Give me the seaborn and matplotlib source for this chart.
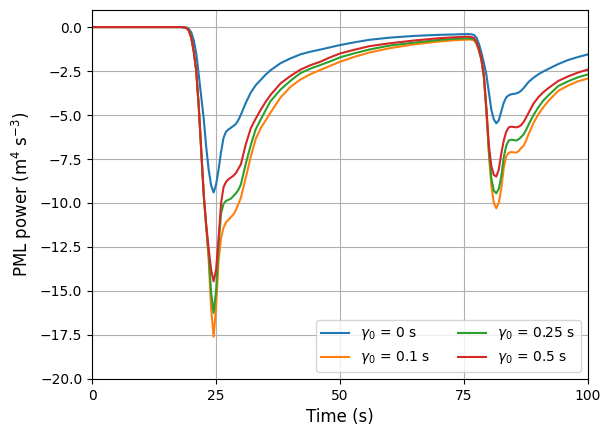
# PML power for different gamma_0 values
import pandas as pd
import matplotlib.pyplot as plt
import seaborn as sns

# Time axis (s)
tempo = [0, 5, 10, 15, 18, 19, 19.5, 20, 20.5, 21, 21.5, 22, 22.5, 23, 23.5, 24, 24.5,
         25, 25.5, 26, 26.5, 27, 27.5, 28, 28.5, 29, 29.5, 30, 31, 32, 33, 34, 35, 36,
         38, 40, 42, 44, 46, 48, 50, 53, 56, 60, 65, 70, 73, 75, 76, 76.5, 77, 77.5,
         78, 78.5, 79, 79.5, 80, 80.5, 81, 81.5, 82, 82.5, 83, 83.5, 84, 84.5, 85,
         85.5, 86, 86.5, 87, 87.5, 88, 89, 90, 91, 92, 94, 96, 98, 100]

# gamma_0 = 0 s
p_g0 = [0, 0, 0, 0, 0, -0.02, -0.1, -0.3, -0.75, -1.5, -2.7, -3.95, -5.2, -6.8, -8.1,
        -9.0, -9.4, -8.95, -8.1, -7.1, -6.3, -5.95, -5.82, -5.72, -5.62, -5.5, -5.28,
        -4.98, -4.3, -3.72, -3.3, -3.0, -2.7, -2.45, -2.05, -1.78, -1.55, -1.4, -1.28,
        -1.15, -1.02, -0.86, -0.72, -0.6, -0.5, -0.44, -0.42, -0.4, -0.4, -0.41, -0.45,
        -0.6, -0.95, -1.45, -2.05, -2.7, -3.7, -4.7, -5.25, -5.47, -5.3, -4.8, -4.3,
        -4.0, -3.88, -3.82, -3.8, -3.77, -3.72, -3.62, -3.47, -3.3, -3.12, -2.88,
        -2.68, -2.52, -2.38, -2.1, -1.87, -1.7, -1.55]

# gamma_0 = 0.1 s
p_g01 = [0, 0, 0, 0, 0, -0.05, -0.2, -0.6, -1.4, -2.5, -4.5, -7.0, -9.5, -11.4, -13.2,
         -16.0, -17.6, -15.9, -13.3, -12.0, -11.4, -11.1, -10.95, -10.8, -10.65, -10.4,
         -10.05, -9.7, -8.55, -7.35, -6.35, -5.75, -5.3, -4.85, -4.0, -3.4, -2.98,
         -2.68, -2.44, -2.2, -1.97, -1.68, -1.44, -1.2, -0.98, -0.82, -0.75, -0.72,
         -0.71, -0.72, -0.75, -0.95, -1.35, -1.9, -2.85, -4.8, -7.2, -9.0, -10.0,
         -10.3, -10.0, -9.2, -8.0, -7.35, -7.15, -7.1, -7.12, -7.14, -7.05, -6.88,
         -6.75, -6.45, -6.1, -5.45, -4.95, -4.55, -4.2, -3.62, -3.32, -3.08, -2.92]

# gamma_0 = 0.25 s
p_g025 = [0, 0, 0, 0, 0, -0.05, -0.2, -0.6, -1.4, -2.5, -4.5, -7.0, -9.5, -11.3, -12.9,
          -15.1, -16.25, -15.0, -12.4, -10.6, -10.05, -9.88, -9.82, -9.75, -9.6, -9.45,
          -9.25, -8.95, -7.75, -6.7, -5.8, -5.25, -4.72, -4.2, -3.55, -3.05, -2.62,
          -2.36, -2.16, -1.95, -1.72, -1.48, -1.27, -1.05, -0.88, -0.73, -0.67, -0.64,
          -0.64, -0.66, -0.7, -0.9, -1.3, -1.85, -2.8, -4.7, -7.0, -8.6, -9.3, -9.45,
          -9.2, -8.5, -7.4, -6.75, -6.45, -6.4, -6.42, -6.45, -6.38, -6.25, -6.1,
          -5.85, -5.55, -5.0, -4.55, -4.17, -3.88, -3.35, -3.08, -2.85, -2.69]

# gamma_0 = 0.5 s
p_g05 = [0, 0, 0, 0, 0, -0.05, -0.2, -0.6, -1.4, -2.5, -4.5, -7.0, -9.5, -11.2, -12.6,
         -13.8, -14.45, -13.8, -12.0, -10.0, -9.1, -8.8, -8.65, -8.55, -8.45, -8.3,
         -8.05, -7.8, -6.65, -5.75, -5.2, -4.7, -4.25, -3.85, -3.2, -2.78, -2.42,
         -2.17, -1.97, -1.72, -1.5, -1.28, -1.08, -0.92, -0.76, -0.63, -0.58, -0.55,
         -0.55, -0.57, -0.62, -0.85, -1.25, -1.8, -2.75, -4.6, -6.7, -7.9, -8.4, -8.5,
         -8.1, -7.2, -6.45, -5.95, -5.7, -5.66, -5.68, -5.7, -5.66, -5.58, -5.4,
         -5.15, -4.88, -4.35, -3.98, -3.7, -3.47, -3.06, -2.8, -2.58, -2.41]

rotulos = [r'$\gamma_0$ = 0 s', r'$\gamma_0$ = 0.1 s', r'$\gamma_0$ = 0.25 s', r'$\gamma_0$ = 0.5 s']
series = [p_g0, p_g01, p_g025, p_g05]

# Long-form table for seaborn
frames = []
for rotulo, valores in zip(rotulos, series):
    frames.append(pd.DataFrame({'t': tempo, 'p': valores, 'gamma': rotulo}))
df = pd.concat(frames, ignore_index=True)

fig = plt.figure(figsize=(6.1, 4.36), dpi=100)
ax = fig.add_axes([0.151, 0.131, 0.813, 0.846])
sns.lineplot(data=df, x='t', y='p', hue='gamma', hue_order=rotulos,
             palette='tab10', linewidth=1.5, ax=ax)

ax.set_xlim(0, 100)
ax.set_ylim(-20, 0.97)
ax.set_xticks([0, 25, 50, 75, 100])
ax.set_yticks([0, -2.5, -5, -7.5, -10, -12.5, -15, -17.5, -20])
ax.set_xlabel('Time (s)', fontsize=12)
ax.set_ylabel(r'PML power (m$^4$ s$^{-3}$)', fontsize=12)
ax.grid(True)
ax.legend(title=None, ncol=2, loc='lower right')

plt.savefig('out.png', dpi=100)
